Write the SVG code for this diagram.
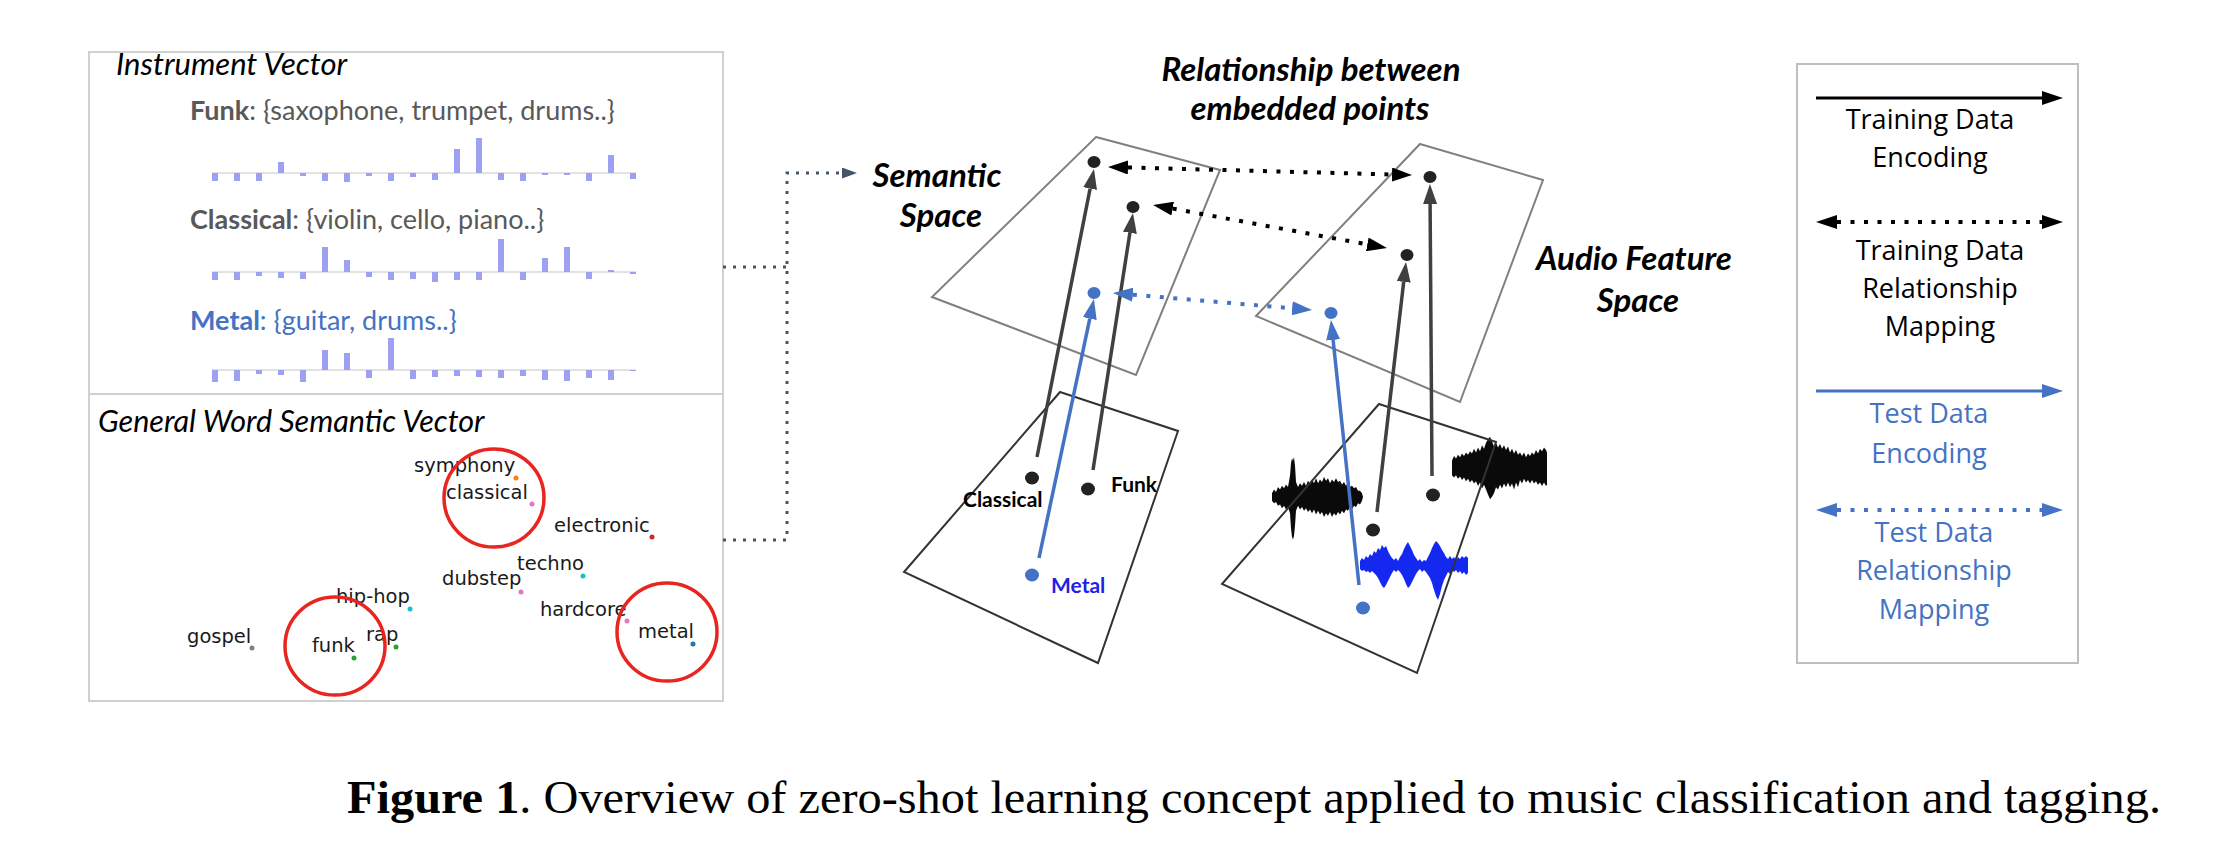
<svg xmlns="http://www.w3.org/2000/svg" width="2222" height="850" viewBox="0 0 2222 850">
<style>
.cal{font-family:Lato,"Liberation Sans",sans-serif}
.it{font-style:italic}
.b{font-weight:bold}
.lg{font-family:"Open Sans","Liberation Sans",sans-serif;font-size:27px;text-anchor:middle}
.mpl{font-family:"DejaVu Sans",sans-serif;font-size:19.5px;fill:#1a1a1a}
.bars rect{fill:#9da1f0}
.base{stroke:#d9d9d9;stroke-width:1.5}
.panel{fill:none;stroke:#d0d0d0;stroke-width:2}
.planeU{fill:none;stroke:#808080;stroke-width:2}
.planeL{fill:none;stroke:#333333;stroke-width:2}
.enc{fill:none;stroke:#404040;stroke-width:3.5}
.encB{fill:none;stroke:#4472C4;stroke-width:3.5}
.rel{fill:none;stroke:#000;stroke-width:4;stroke-dasharray:4 9.5}
.relB{fill:none;stroke:#4472C4;stroke-width:4;stroke-dasharray:4 9.5}
.ttl{font-family:Lato,"Liberation Sans",sans-serif;font-style:italic;font-weight:bold;font-size:33px;text-anchor:middle}
</style>
<defs>
<marker id="ahD" viewBox="0 0 20 14" refX="0" refY="7" markerWidth="20" markerHeight="14" markerUnits="userSpaceOnUse" orient="auto-start-reverse"><path d="M0,0 L20,7 L0,14 Z" fill="#404040"/></marker>
<marker id="ahK" viewBox="0 0 20 14" refX="0" refY="7" markerWidth="20" markerHeight="14" markerUnits="userSpaceOnUse" orient="auto-start-reverse"><path d="M0,0 L20,7 L0,14 Z" fill="#000"/></marker>
<marker id="ahB" viewBox="0 0 20 14" refX="0" refY="7" markerWidth="20" markerHeight="14" markerUnits="userSpaceOnUse" orient="auto-start-reverse"><path d="M0,0 L20,7 L0,14 Z" fill="#4472C4"/></marker>
<marker id="ahS" viewBox="0 0 15 11" refX="0" refY="5.5" markerWidth="15" markerHeight="11" markerUnits="userSpaceOnUse" orient="auto"><path d="M0,0 L15,5.5 L0,11 Z" fill="#44546a"/></marker>
<marker id="ahL" viewBox="0 0 21 14" refX="0" refY="7" markerWidth="21" markerHeight="14" markerUnits="userSpaceOnUse" orient="auto-start-reverse"><path d="M0,0 L21,7 L0,14 Z" fill="#000"/></marker>
<marker id="ahLB" viewBox="0 0 21 14" refX="0" refY="7" markerWidth="21" markerHeight="14" markerUnits="userSpaceOnUse" orient="auto-start-reverse"><path d="M0,0 L21,7 L0,14 Z" fill="#4472C4"/></marker>
</defs>

<g id="instrument-vector">
<rect class="panel" x="89" y="52" width="634" height="342"/>
<text class="cal it" x="116" y="75" font-size="31">Instrument Vector</text>
<text class="cal" x="190" y="120" font-size="27" fill="#595959"><tspan class="b">Funk</tspan>: {saxophone, trumpet, drums..}</text>
<line class="base" x1="212" y1="173" x2="636" y2="173"/>
<g class="bars">
<rect x="212" y="173" width="6" height="8"/><rect x="234" y="173" width="6" height="8"/><rect x="256" y="173" width="6" height="8"/><rect x="278" y="162" width="6" height="11"/><rect x="300" y="173" width="6" height="3"/><rect x="322" y="173" width="6" height="8"/><rect x="344" y="173" width="6" height="9"/><rect x="366" y="173" width="6" height="3"/><rect x="388" y="173" width="6" height="8"/><rect x="410" y="173" width="6" height="4"/><rect x="432" y="173" width="6" height="7"/><rect x="454" y="149" width="6" height="24"/><rect x="476" y="138" width="6" height="35"/><rect x="498" y="173" width="6" height="7"/><rect x="520" y="173" width="6" height="8"/><rect x="542" y="173" width="6" height="2"/><rect x="564" y="173" width="6" height="2"/><rect x="586" y="173" width="6" height="8"/><rect x="608" y="155" width="6" height="18"/><rect x="630" y="173" width="6" height="6"/>
</g>
<text class="cal" x="190" y="229" font-size="27" fill="#595959"><tspan class="b">Classical</tspan>: {violin, cello, piano..}</text>
<line class="base" x1="212" y1="272" x2="636" y2="272"/>
<g class="bars">
<rect x="212" y="272" width="6" height="8"/><rect x="234" y="272" width="6" height="8"/><rect x="256" y="272" width="6" height="4"/><rect x="278" y="272" width="6" height="6"/><rect x="300" y="272" width="6" height="7"/><rect x="322" y="247" width="6" height="25"/><rect x="344" y="260" width="6" height="12"/><rect x="366" y="272" width="6" height="5"/><rect x="388" y="272" width="6" height="8"/><rect x="410" y="272" width="6" height="7"/><rect x="432" y="272" width="6" height="10"/><rect x="454" y="272" width="6" height="8"/><rect x="476" y="272" width="6" height="8"/><rect x="498" y="239" width="6" height="33"/><rect x="520" y="272" width="6" height="8"/><rect x="542" y="258" width="6" height="14"/><rect x="564" y="247" width="6" height="25"/><rect x="586" y="272" width="6" height="7"/><rect x="608" y="270" width="6" height="2"/><rect x="630" y="272" width="6" height="2"/>
</g>
<text class="cal" x="190" y="330" font-size="27" fill="#4472C4"><tspan class="b">Metal</tspan>: {guitar, drums..}</text>
<line class="base" x1="212" y1="370" x2="636" y2="370"/>
<g class="bars">
<rect x="212" y="370" width="6" height="12"/><rect x="234" y="370" width="6" height="11"/><rect x="256" y="370" width="6" height="4"/><rect x="278" y="370" width="6" height="5"/><rect x="300" y="370" width="6" height="12"/><rect x="322" y="350" width="6" height="20"/><rect x="344" y="353" width="6" height="17"/><rect x="366" y="370" width="6" height="8"/><rect x="388" y="338" width="6" height="32"/><rect x="410" y="370" width="6" height="9"/><rect x="432" y="370" width="6" height="7"/><rect x="454" y="370" width="6" height="6"/><rect x="476" y="370" width="6" height="7"/><rect x="498" y="370" width="6" height="8"/><rect x="520" y="370" width="6" height="6"/><rect x="542" y="370" width="6" height="10"/><rect x="564" y="370" width="6" height="11"/><rect x="586" y="370" width="6" height="8"/><rect x="608" y="370" width="6" height="10"/><rect x="630" y="370" width="6" height="1"/>
</g>
</g>

<g id="word-vector">
<rect class="panel" x="89" y="394" width="634" height="307"/>
<text class="cal it" x="98" y="432" font-size="30.5">General Word Semantic Vector</text>
<text class="mpl" x="414" y="472">symphony</text><circle cx="516" cy="478" r="2.5" fill="#ff7f0e"/>
<text class="mpl" x="446" y="499">classical</text><circle cx="532" cy="504" r="2.5" fill="#e377c2"/>
<text class="mpl" x="554" y="532">electronic</text><circle cx="652" cy="537" r="2.5" fill="#d62728"/>
<text class="mpl" x="517" y="570">techno</text><circle cx="583" cy="576" r="2.5" fill="#17becf"/>
<text class="mpl" x="442" y="585">dubstep</text><circle cx="521" cy="592" r="2.5" fill="#e377c2"/>
<text class="mpl" x="336" y="603">hip-hop</text><circle cx="410" cy="609" r="2.5" fill="#17becf"/>
<text class="mpl" x="540" y="616">hardcore</text><circle cx="627" cy="621" r="2.5" fill="#e377c2"/>
<text class="mpl" x="638" y="638">metal</text><circle cx="693" cy="644" r="2.5" fill="#1f77b4"/>
<text class="mpl" x="187" y="643">gospel</text><circle cx="252" cy="648" r="2.5" fill="#7f7f7f"/>
<text class="mpl" x="312" y="652">funk</text><circle cx="354" cy="658" r="2.5" fill="#2ca02c"/>
<text class="mpl" x="366" y="641">rap</text><circle cx="396" cy="647" r="2.5" fill="#2ca02c"/>
<g fill="none" stroke="#e8251f" stroke-width="3.5">
<ellipse cx="494" cy="498" rx="50" ry="49"/>
<ellipse cx="335" cy="646" rx="50" ry="49"/>
<ellipse cx="667" cy="632" rx="50" ry="49"/>
</g>
</g>

<g id="semantic-space">
<polygon class="planeU" points="1096,137 1220,170 1136,375 932,297"/>
<polygon class="planeL" points="1060,392 1178,431 1098,663 904,572"/>
<text class="ttl" x="937" y="187">Semantic</text>
<text class="ttl" x="941" y="227">Space</text>
<text class="cal b" x="963" y="507" font-size="21">Classical</text>
<text class="cal b" x="1111" y="492" font-size="21">Funk</text>
<text class="cal b" x="1051" y="593" font-size="21" fill="#1f1fe6">Metal</text>
</g>

<g id="audio-space">
<polygon class="planeU" points="1420,144 1543,180 1460,402 1256,316"/>
<path fill="#0a0a0a" transform="translate(0,497) scale(1,1.25) translate(0,-497)" d="M1272,494 L1274,491 1276,493 1278,489 1280,491 1282,488 1284,490 1286,487 1288,489 1290,480 1291,470 1292,466 1293,468 1294,465 1295,472 1296,485 1298,489 1300,486 1302,488 1304,485 1306,488 1308,484 1310,487 1312,483 1314,486 1316,482 1318,486 1320,483 1322,485 1324,481 1326,484 1328,482 1330,486 1332,483 1334,485 1336,482 1338,485 1340,484 1342,487 1344,485 1346,488 1348,486 1350,489 1352,488 1354,490 1356,489 1358,492 1360,492 1362,494 1363,497 1362,500 1360,503 1358,502 1356,505 1354,504 1352,507 1350,505 1348,508 1346,507 1344,510 1342,508 1340,511 1338,509 1336,512 1334,510 1332,513 1330,509 1328,512 1326,510 1324,513 1322,509 1320,511 1318,508 1316,511 1314,507 1312,510 1310,507 1308,509 1306,506 1304,508 1302,505 1300,507 1298,504 1296,508 1295,520 1294,528 1293,531 1292,529 1291,522 1290,510 1288,505 1286,507 1284,504 1282,506 1280,503 1278,504 1276,501 1274,502 1272,500 Z"/>
<path fill="#0a0a0a" transform="translate(0,468) scale(1,1.2) translate(0,-468)" d="M1452,462 L1454,458 1456,460 1458,457 1460,459 1462,456 1464,458 1466,455 1468,457 1470,454 1472,456 1474,452 1476,455 1478,451 1480,454 1482,449 1484,452 1486,447 1488,444 1490,442 1492,446 1494,450 1496,447 1498,451 1500,448 1502,452 1504,449 1506,453 1508,450 1510,455 1512,452 1514,456 1516,453 1518,457 1520,455 1522,458 1524,455 1526,459 1528,456 1530,458 1532,455 1534,457 1536,453 1538,456 1540,452 1542,454 1544,451 1546,453 1547,455 1547,482 1546,483 1544,480 1542,483 1540,480 1538,482 1536,479 1534,481 1532,478 1530,481 1528,478 1526,480 1524,477 1522,481 1520,478 1518,484 1516,480 1514,486 1512,481 1510,484 1508,480 1506,484 1504,481 1502,485 1500,482 1498,486 1496,484 1494,489 1492,492 1490,494 1488,490 1486,486 1484,482 1482,485 1480,480 1478,483 1476,479 1474,481 1472,478 1470,480 1468,477 1466,479 1464,476 1462,478 1460,475 1458,477 1456,474 1454,476 1452,474 Z"/>
<path fill="#1428f0" d="M1360,561 L1362,558 1364,560 1366,556 1368,558 1370,554 1372,556 1374,551 1376,553 1378,548 1380,550 1382,545 1384,548 1386,546 1388,551 1390,555 1392,558 1394,560 1396,558 1398,561 1400,557 1402,554 1404,549 1406,545 1408,542 1410,546 1412,550 1414,555 1416,558 1418,561 1420,559 1422,562 1424,560 1426,561 1428,557 1430,553 1432,548 1434,544 1436,541 1438,543 1440,546 1442,550 1444,553 1446,557 1448,559 1450,556 1452,559 1454,557 1456,560 1458,557 1460,559 1462,556 1464,558 1466,556 1468,558 1468,573 1466,575 1464,572 1462,574 1460,571 1458,573 1456,570 1454,572 1452,570 1450,574 1448,572 1446,576 1444,580 1442,586 1440,594 1438,600 1436,596 1434,590 1432,583 1430,578 1428,575 1426,572 1424,570 1422,572 1420,569 1418,571 1416,574 1414,578 1412,582 1410,586 1408,588 1406,584 1404,579 1402,575 1400,572 1398,570 1396,572 1394,570 1392,573 1390,577 1388,581 1386,585 1384,588 1382,586 1380,582 1378,578 1376,575 1374,573 1372,571 1370,573 1368,571 1366,572 1364,570 1362,571 1360,569 Z"/>
<polygon class="planeL" points="1379,404 1496,442 1417,673 1222,584"/>
<text class="ttl" x="1634" y="270">Audio Feature</text>
<text class="ttl" x="1638" y="312">Space</text>
</g>

<g id="relationship-title">
<text class="ttl" x="1311" y="81" font-size="35">Relationship between</text>
<text class="ttl" x="1310" y="120" font-size="35">embedded points</text>
</g>

<g id="connectors">
<path d="M723,267 H787 M723,540 H787 V173 H842" fill="none" stroke="#44546a" stroke-width="3" stroke-dasharray="3 7" marker-end="url(#ahS)"/>
<line class="enc" x1="1037" y1="457" x2="1090.1" y2="188.6" marker-end="url(#ahD)"/>
<line class="enc" x1="1093" y1="470" x2="1129.9" y2="232.8" marker-end="url(#ahD)"/>
<line class="encB" x1="1039" y1="558" x2="1089.8" y2="318.6" marker-end="url(#ahB)"/>
<line class="encB" x1="1359" y1="585" x2="1333.1" y2="339.9" marker-end="url(#ahB)"/>
<line class="enc" x1="1377" y1="512" x2="1403.7" y2="281.9" marker-end="url(#ahD)"/>
<line class="enc" x1="1432" y1="476" x2="1430.1" y2="204" marker-end="url(#ahD)"/>
<line class="rel" x1="1128" y1="167.5" x2="1392" y2="174.5" marker-start="url(#ahK)" marker-end="url(#ahK)"/>
<line class="rel" x1="1172.7" y1="208.6" x2="1367.3" y2="244.4" marker-start="url(#ahK)" marker-end="url(#ahK)"/>
<line class="relB" x1="1132.9" y1="294.7" x2="1292.1" y2="308.3" marker-start="url(#ahB)" marker-end="url(#ahB)"/>
</g>

<g id="points">
<g fill="#222">
<ellipse cx="1094" cy="162" rx="6.5" ry="6"/>
<ellipse cx="1133" cy="207" rx="6.5" ry="6"/>
<ellipse cx="1430" cy="177" rx="6.5" ry="6"/>
<ellipse cx="1407" cy="255" rx="6.5" ry="6"/>
<ellipse cx="1032" cy="478" rx="7" ry="6.5"/>
<ellipse cx="1088" cy="489" rx="7" ry="6.5"/>
<ellipse cx="1373" cy="530" rx="7" ry="6.5"/>
<ellipse cx="1433" cy="495" rx="7" ry="6.5"/>
</g>
<g fill="#4472C4">
<ellipse cx="1094" cy="293" rx="6.5" ry="6"/>
<ellipse cx="1331" cy="313" rx="6.5" ry="6"/>
<ellipse cx="1032" cy="575" rx="7" ry="6.5"/>
<ellipse cx="1363" cy="608" rx="7" ry="6.5"/>
</g>
</g>

<g id="legend">
<rect x="1797" y="64" width="281" height="599" fill="none" stroke="#bfbfbf" stroke-width="2"/>
<line x1="1816" y1="98" x2="2042" y2="98" stroke="#000" stroke-width="3" marker-end="url(#ahL)"/>
<text class="lg" x="1930" y="129">Training Data</text>
<text class="lg" x="1930" y="167">Encoding</text>
<line x1="1837" y1="222" x2="2042" y2="222" stroke="#000" stroke-width="4" stroke-dasharray="4 9.5" marker-start="url(#ahL)" marker-end="url(#ahL)"/>
<text class="lg" x="1940" y="260">Training Data</text>
<text class="lg" x="1940" y="298">Relationship</text>
<text class="lg" x="1940" y="336">Mapping</text>
<line x1="1816" y1="391" x2="2042" y2="391" stroke="#4472C4" stroke-width="3" marker-end="url(#ahLB)"/>
<text class="lg" x="1929" y="423" fill="#4472C4">Test Data</text>
<text class="lg" x="1929" y="463" fill="#4472C4">Encoding</text>
<line x1="1837" y1="510" x2="2042" y2="510" stroke="#4472C4" stroke-width="4" stroke-dasharray="4 9.5" marker-start="url(#ahLB)" marker-end="url(#ahLB)"/>
<text class="lg" x="1934" y="542" fill="#4472C4">Test Data</text>
<text class="lg" x="1934" y="580" fill="#4472C4">Relationship</text>
<text class="lg" x="1934" y="619" fill="#4472C4">Mapping</text>
</g>

<g id="caption">
<text x="347" y="813" font-family="'Liberation Serif',serif" font-size="46" textLength="1814" lengthAdjust="spacingAndGlyphs"><tspan font-weight="bold">Figure 1</tspan>. Overview of zero-shot learning concept applied to music classification and tagging.</text>
</g>
</svg>
